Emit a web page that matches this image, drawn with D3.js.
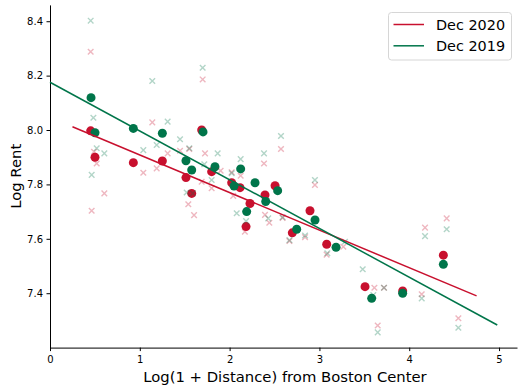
<!DOCTYPE html>
<html>
<head>
<meta charset="utf-8">
<script src="https://cdn.jsdelivr.net/npm/d3@7"></script>
<style>
  html, body { margin: 0; padding: 0; background: #fff; }
  svg { display: block; font-family: "DejaVu Sans", sans-serif; }
</style>
</head>
<body>
<svg id="chart" width="518" height="389"></svg>
<script>
// Binned averages of log rent by log distance, one set per month
const binX2020 = [0.453, 0.501, 0.928, 1.251, 1.514, 1.578, 1.689, 1.800, 2.023, 2.116, 2.183, 2.227, 2.394, 2.506, 2.698, 2.895, 3.081, 3.508, 3.927, 4.380];
const binY2020 = [7.997, 7.900, 7.880, 7.886, 7.825, 7.767, 8.000, 7.847, 7.806, 7.788, 7.645, 7.730, 7.761, 7.795, 7.622, 7.703, 7.580, 7.424, 7.408, 7.540];
const binX2019 = [0.457, 0.501, 0.928, 1.251, 1.514, 1.578, 1.704, 1.837, 2.049, 2.123, 2.190, 2.283, 2.402, 2.535, 2.747, 2.951, 3.185, 3.582, 3.927, 4.380];
const binY2019 = [8.119, 7.990, 8.006, 7.988, 7.887, 7.853, 7.993, 7.865, 7.794, 7.857, 7.700, 7.806, 7.737, 7.777, 7.635, 7.669, 7.569, 7.381, 7.400, 7.506];

// Individual observations
const obsX2020 = [0.453, 0.490, 0.520, 0.605, 0.464, 1.039, 1.139, 1.188, 1.310, 1.448, 1.551, 1.540, 1.604, 1.700, 1.726, 1.689, 1.800, 1.900, 2.023, 2.123, 2.383, 2.572, 2.950, 2.040, 2.170, 2.442, 2.394, 2.590, 2.666, 2.840, 3.080, 3.266, 3.612, 3.719, 4.139, 4.176, 4.417, 4.547, 3.649];
const obsY2020 = [8.288, 7.920, 7.877, 7.767, 7.703, 7.843, 8.028, 7.859, 7.914, 7.924, 7.930, 7.727, 7.687, 8.186, 7.914, 7.810, 7.786, 7.850, 7.845, 7.832, 7.877, 7.930, 7.798, 7.758, 7.626, 7.659, 7.688, 7.677, 7.592, 7.606, 7.542, 7.571, 7.420, 7.420, 7.396, 7.641, 7.675, 7.308, 7.281];
const obsX2019 = [0.453, 0.483, 0.520, 0.605, 0.464, 1.039, 1.139, 1.188, 1.310, 1.448, 1.551, 1.522, 1.590, 1.700, 1.718, 1.800, 1.867, 2.023, 2.123, 2.383, 2.572, 2.950, 2.079, 2.183, 2.430, 2.590, 2.666, 2.840, 3.088, 3.285, 3.482, 3.600, 3.719, 4.139, 4.176, 4.417, 4.547, 3.649];
const obsY2019 = [8.402, 8.045, 7.933, 7.914, 7.835, 7.926, 8.180, 7.945, 8.031, 7.966, 7.933, 7.770, 7.767, 8.229, 7.874, 7.816, 7.914, 7.841, 7.893, 7.914, 7.978, 7.816, 7.694, 7.665, 7.675, 7.679, 7.595, 7.612, 7.547, 7.589, 7.488, 7.393, 7.420, 7.381, 7.610, 7.635, 7.273, 7.256];

// Fitted lines: [x start, x end], intercept, slope
const fitRange2020 = [0.25, 4.75];
const fit2020 = { intercept: 8.0465, slope: -0.1382 };
const fitRange2019 = [0.0, 4.98];
const fit2019 = { intercept: 8.1756, slope: -0.1792 };

const xTicks = [0, 1, 2, 3, 4, 5];
const yTicks = [7.4, 7.6, 7.8, 8.0, 8.2, 8.4];
const seriesNames = ["Dec 2020", "Dec 2019"];
const colors = { "Dec 2020": "#c8102e", "Dec 2019": "#00754a" };

const svg = d3.select("#chart");
const plotLeft = 50, plotRight = 517, plotTop = 4.9, plotBottom = 347.6;

const x = d3.scaleLinear().domain([0, 5.2]).range([plotLeft, plotRight]);
const y = d3.scaleLinear().domain([7.2, 8.46]).range([plotBottom, plotTop]);

// Axes (left and bottom spines only)
const xAxis = svg.append("g")
  .attr("transform", `translate(0,${plotBottom})`)
  .call(d3.axisBottom(x).tickValues(xTicks).tickFormat(d3.format("d"))
    .tickSize(3.5).tickPadding(4.5).tickSizeOuter(0));
const yAxis = svg.append("g")
  .attr("transform", `translate(${plotLeft},0)`)
  .call(d3.axisLeft(y).tickValues(yTicks).tickFormat(d3.format(".1f"))
    .tickSize(3.5).tickPadding(3.5).tickSizeOuter(0));
[xAxis, yAxis].forEach(g => {
  g.selectAll("path.domain").attr("stroke", "#000").attr("stroke-width", 1);
  g.selectAll(".tick line").attr("stroke", "#000").attr("stroke-width", 1);
  g.selectAll(".tick text").attr("font-size", 10).attr("fill", "#000")
    .attr("font-family", "DejaVu Sans, sans-serif");
});

const plot = svg.append("g");

function drawBins(xs, ys, color) {
  plot.append("g").selectAll("circle")
    .data(xs.map((v, i) => [v, ys[i]]))
    .join("circle")
    .attr("cx", d => x(d[0]))
    .attr("cy", d => y(d[1]))
    .attr("r", 4.5)
    .attr("fill", color);
}

function drawObs(xs, ys, color) {
  const s = 2.8;
  plot.append("g").selectAll("path")
    .data(xs.map((v, i) => [v, ys[i]]))
    .join("path")
    .attr("d", d => {
      const cx = x(d[0]), cy = y(d[1]);
      return `M${cx - s},${cy - s}L${cx + s},${cy + s}M${cx - s},${cy + s}L${cx + s},${cy - s}`;
    })
    .attr("stroke", color)
    .attr("stroke-width", 1.4)
    .attr("stroke-opacity", 0.3)
    .attr("fill", "none");
}

function drawFit(range, fit, color) {
  const pts = range.map(v => [v, fit.intercept + fit.slope * v]);
  plot.append("path")
    .attr("d", d3.line().x(d => x(d[0])).y(d => y(d[1]))(pts))
    .attr("stroke", color)
    .attr("stroke-width", 1.5)
    .attr("fill", "none");
}

drawBins(binX2020, binY2020, colors["Dec 2020"]);
drawBins(binX2019, binY2019, colors["Dec 2019"]);
drawObs(obsX2020, obsY2020, colors["Dec 2020"]);
drawObs(obsX2019, obsY2019, colors["Dec 2019"]);
drawFit(fitRange2020, fit2020, colors["Dec 2020"]);
drawFit(fitRange2019, fit2019, colors["Dec 2019"]);

// Axis titles
svg.append("text")
  .attr("x", 285).attr("y", 381.5)
  .attr("text-anchor", "middle").attr("font-size", 14.8).attr("fill", "#000")
  .text("Log(1 + Distance) from Boston Center");
svg.append("text")
  .attr("transform", `translate(21,${(plotTop + plotBottom) / 2}) rotate(-90)`)
  .attr("text-anchor", "middle").attr("font-size", 14.8).attr("fill", "#000")
  .text("Log Rent");

// Legend
const legend = svg.append("g");
legend.append("rect")
  .attr("x", 388.5).attr("y", 12.5).attr("width", 123).attr("height", 47.5)
  .attr("rx", 3).attr("fill", "#fff").attr("fill-opacity", 0.8)
  .attr("stroke", "#d6d6d6").attr("stroke-width", 1);
seriesNames.forEach((name, i) => {
  const ly = 24.5 + i * 21.3;
  legend.append("line")
    .attr("x1", 393.5).attr("x2", 424).attr("y1", ly).attr("y2", ly)
    .attr("stroke", colors[name]).attr("stroke-width", 1.5);
  legend.append("text")
    .attr("x", 436).attr("y", ly + 5.2)
    .attr("font-size", 14.4).attr("fill", "#000")
    .text(name);
});
</script>
</body>
</html>
